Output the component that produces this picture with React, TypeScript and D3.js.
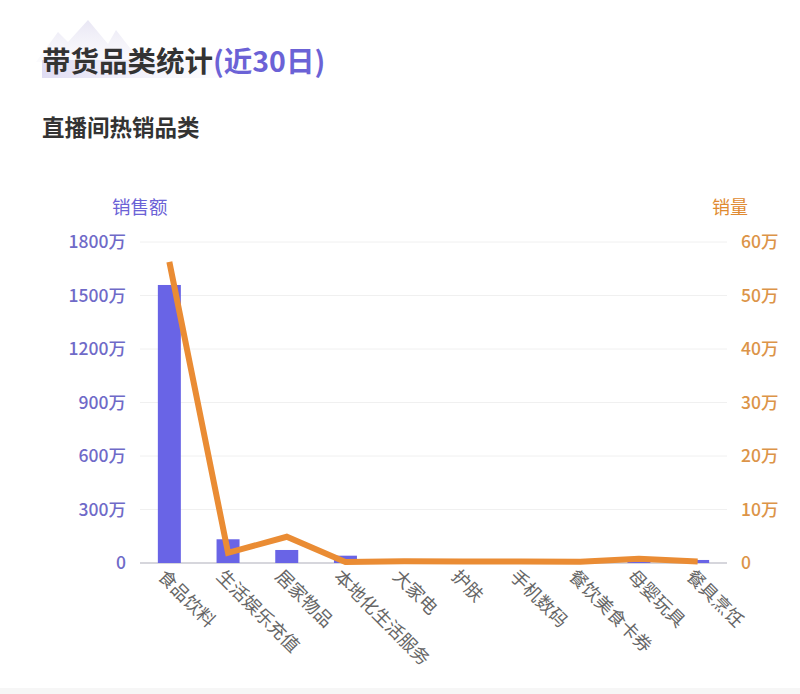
import React from "react";
import * as d3 from "d3";

const categories = ["食品饮料", "生活娱乐充值", "居家物品", "本地化生活服务", "大家电", "护肤", "手机数码", "餐饮美食卡券", "母婴玩具", "餐具烹饪"];
const salesWan = [1559, 133, 73, 41, 6, 4, 5, 3, 6, 17];
const volumeWan = [56.3, 1.9, 4.9, 0.2, 0.35, 0.3, 0.3, 0.25, 0.8, 0.3];
const leftTicks = [0, 300, 600, 900, 1200, 1500, 1800];
const rightTicks = [0, 10, 20, 30, 40, 50, 60];

const FONT = "'Noto Sans CJK SC', 'Noto Sans', sans-serif";

export default function App() {
  const W = 800, H = 694;
  const x0 = 140, x1 = 727, yTop = 242, yBot = 563;
  const x = d3.scaleBand<string>().domain(categories).range([x0, x1]).paddingInner(0).paddingOuter(0);
  const yL = d3.scaleLinear().domain([0, 1800]).range([yBot, yTop]);
  const yR = d3.scaleLinear().domain([0, 60]).range([yBot, yTop]);
  const barW = 23;
  const cx = (c: string) => (x(c) as number) + x.bandwidth() / 2;
  const line = d3.line<number>().x((_, i) => cx(categories[i])).y((d) => yR(d));

  return (
    <svg width={W} height={H} style={{ position: "absolute", left: 0, top: 0, background: "#fff" }} fontFamily={FONT}>
      <defs>
        <linearGradient id="hl" x1="0" x2="1" y1="0" y2="0">
          <stop offset="0" stopColor="#dcd9f2" stopOpacity={0.9} />
          <stop offset="1" stopColor="#eeedf9" stopOpacity={0} />
        </linearGradient>
        <linearGradient id="mt" x1="0" x2="0" y1="0" y2="1">
          <stop offset="0" stopColor="#e6e4f3" stopOpacity={0.9} />
          <stop offset="1" stopColor="#f1f0f8" stopOpacity={0.3} />
        </linearGradient>
      </defs>
      <rect x={0} y={0} width={W} height={H} fill="#fff" />
      <rect x={0} y={688} width={W} height={6} fill="#f6f6f6" />
      {/* decorative mountains */}
      <path d="M36,62 L58,32 L68,42 L88,20 L108,44 L116,30 L130,48 L150,62 Z" fill="url(#mt)" />
      <rect x={42} y={60} width={210} height={18} fill="url(#hl)" />
      <text x={42} y={72} fontSize={28.5} fontWeight="bold" fill="#333">
        带货品类统计<tspan fill="#6b62d6">(近30日)</tspan>
      </text>
      <text x={42} y={136} fontSize={22.5} fontWeight="bold" fill="#333">直播间热销品类</text>

      {/* gridlines */}
      {leftTicks.map((t) => (
        <line key={"g" + t} x1={x0} x2={x1} y1={yL(t)} y2={yL(t)} stroke={t === 0 ? "#c8c8d0" : "#f0f0f0"} strokeWidth={t === 0 ? 1.5 : 1} />
      ))}

      {/* axis titles */}
      <text x={112} y={214} fontSize={18.5} fill="#6b62d6">销售额</text>
      <text x={748} y={214} fontSize={18} fill="#e08a30" textAnchor="end">销量</text>

      {leftTicks.map((t) => (
        <text key={"l" + t} x={126} y={yL(t)} dy="0.35em" fontSize={17.5} fontWeight={500} fill="#6f6ac8" textAnchor="end">
          {t === 0 ? "0" : t + "万"}
        </text>
      ))}
      {rightTicks.map((t) => (
        <text key={"r" + t} x={741} y={yR(t)} dy="0.35em" fontSize={17.5} fontWeight={500} fill="#dc9448" textAnchor="start">
          {t === 0 ? "0" : t + "万"}
        </text>
      ))}

      {/* bars */}
      {categories.map((c, i) => (
        <rect key={"b" + c} x={cx(c) - barW / 2} y={yL(salesWan[i])} width={barW} height={yBot - yL(salesWan[i])} fill="#6964e6" />
      ))}

      {/* line */}
      <path d={line(volumeWan) || ""} fill="none" stroke="#ea8c34" strokeWidth={6} strokeLinejoin="miter" />

      {/* x labels */}
      {categories.map((c) => (
        <text key={"x" + c} transform={`translate(${cx(c) - 8},${yBot + 10}) rotate(45)`} fontSize={18} fill="#666" dy="0.35em">
          {c}
        </text>
      ))}
    </svg>
  );
}
